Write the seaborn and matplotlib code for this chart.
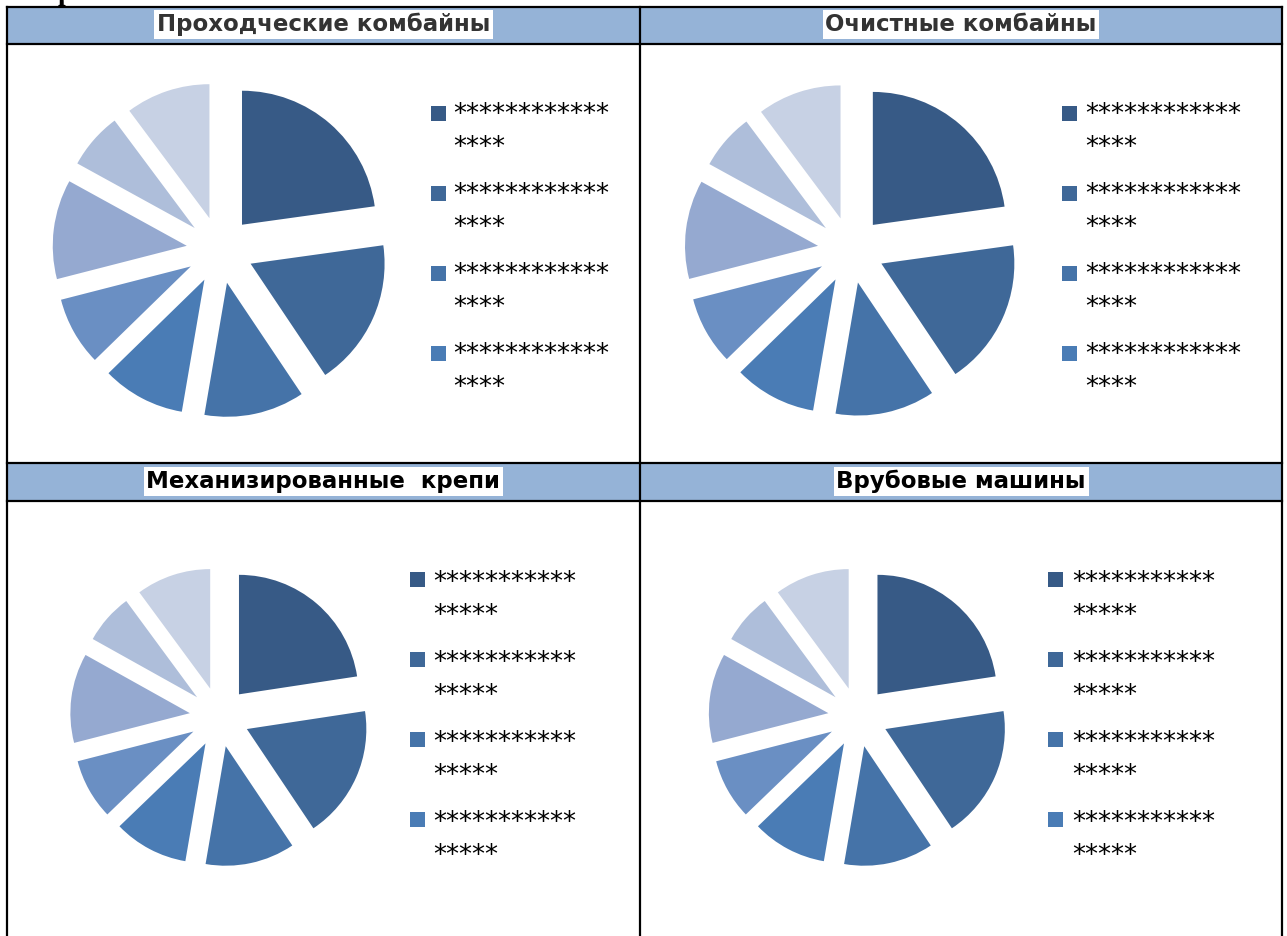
import matplotlib
matplotlib.use("Agg")
import matplotlib.pyplot as plt
from matplotlib.patches import Rectangle
import seaborn as sns

# ---------------- data ----------------
titles = ["Проходческие комбайны", "Очистные комбайны",
          "Механизированные  крепи", "Врубовые машины"]
title_colors = ["#333333", "#333333", "#000000", "#000000"]

shares_tunnel = [22.8, 17.8, 12.1, 10.0, 8.3, 12.0, 6.8, 10.2]
shares_cleaning = [22.8, 17.8, 12.1, 10.0, 8.3, 12.0, 6.8, 10.2]
shares_support = [22.6, 18.0, 12.1, 10.1, 8.2, 12.1, 6.8, 10.1]
shares_cutting = [22.6, 18.0, 12.1, 10.1, 8.2, 12.1, 6.8, 10.1]

legend_labels_top = ["************\n****"] * 4
legend_labels_bottom = ["***********\n*****"] * 4

slice_colors = ["#375A86", "#3F6898", "#4573A8", "#4A7CB5",
                "#6A8FC3", "#95A9D0", "#AEBEDA", "#C7D1E4"]
header_color = "#95B3D7"

# ---------------- layout ----------------
W, H, DPI = 1287, 936, 100
sns.set_theme(style="white")
plt.rcParams["font.family"] = ["DejaVu Sans"]

fig = plt.figure(figsize=(W / DPI, H / DPI), dpi=DPI)
fig.patch.set_facecolor("white")

ov = fig.add_axes([0, 0, 1, 1], zorder=0)
ov.set_xlim(0, W)
ov.set_ylim(H, 0)
ov.axis("off")

col_x = [6.7, 640, 1282]
row_lines = [6.7, 44.3, 462.5, 500.5]
bands = [(6.7, 44.3), (462.5, 500.5)]
lw = 1.6

# fragment of the caption above the table (cut off by the page edge, as in the original)
ov.text(58, 0.5, "р", ha="left", va="baseline", fontsize=20, fontweight="bold",
        family=["Liberation Serif", "DejaVu Serif"], color="black", zorder=4)

# header bands
for (y0, y1) in bands:
    ov.add_patch(Rectangle((col_x[0], y0), col_x[2] - col_x[0], y1 - y0,
                           facecolor=header_color, edgecolor="none", zorder=1))
# table lines
for y in row_lines:
    ov.plot([col_x[0], col_x[2]], [y, y], color="black", lw=lw, zorder=3,
            solid_capstyle="projecting")
for x in col_x:
    ov.plot([x, x], [row_lines[0], H + 5], color="black", lw=lw, zorder=3,
            solid_capstyle="projecting")

# titles
title_pos = [((col_x[0] + col_x[1]) / 2, 24.5), ((col_x[1] + col_x[2]) / 2, 24.5),
             ((col_x[0] + col_x[1]) / 2, 481.5), ((col_x[1] + col_x[2]) / 2, 481.5)]
for (tx, ty), t, c in zip(title_pos, titles, title_colors):
    ov.text(tx, ty, t, ha="center", va="center", fontsize=16.5,
            fontweight="bold", color=c, family=["DejaVu Sans"],
            bbox=dict(facecolor="white", edgecolor="none", pad=2.0), zorder=4)

# pies
pie_specs = [
    (shares_tunnel, 220, 250, 134),
    (shares_cleaning, 851, 250, 133),
    (shares_support, 219.5, 717, 119.5),
    (shares_cutting, 858, 717, 119.5),
]
for vals, cx, cy, r in pie_specs:
    S = r * 1.42
    ax = fig.add_axes([(cx - S) / W, (H - cy - S) / H, 2 * S / W, 2 * S / H], zorder=2)
    ax.pie(vals, colors=slice_colors, startangle=90, counterclock=False,
           explode=[0.25] * len(vals), radius=1,
           wedgeprops=dict(linewidth=0, edgecolor="none"))
    ax.set_xlim(-S / r, S / r)
    ax.set_ylim(-S / r, S / r)
    ax.set_aspect("equal")
    ax.patch.set_visible(False)
    ax.axis("off")

# legends (first four categories, as truncated in the original)
leg_specs = [
    (legend_labels_top, 431, 453, 113, 107),
    (legend_labels_top, 1062, 1085, 113, 107),
    (legend_labels_bottom, 410, 433, 579, 575),
    (legend_labels_bottom, 1048, 1072, 579, 575),
]
fs = 18.6
em = fs * DPI / 72
msz = 15
for labels, mx, tx, my0, ty0 in leg_specs:
    for i, lab in enumerate(labels):
        step = 80 * i
        ov.add_patch(Rectangle((mx, my0 + step - msz / 2), msz, msz,
                               facecolor=slice_colors[i], edgecolor="none", zorder=4))
        for j, line in enumerate(lab.split("\n")):
            yc = ty0 + step + 33 * j
            ov.text(tx, yc + 0.57 * em, line, ha="left", va="baseline",
                    fontsize=fs, color="black", zorder=4)

fig.savefig("out.png", dpi=DPI, facecolor="white")
